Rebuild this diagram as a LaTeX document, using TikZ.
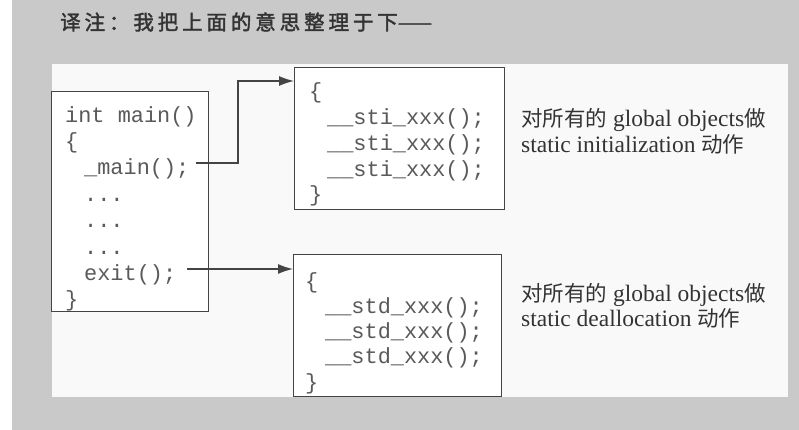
\documentclass[tikz,border=0pt]{standalone}
\usepackage{fontspec}
\setmainfont{Liberation Serif}
\setmonofont{Liberation Mono}
\newfontfamily\cjk{Noto Sans CJK SC}
\newfontfamily\cjktitle[FakeBold=2,LetterSpace=19]{Noto Sans CJK SC}
\newfontfamily\cjkbold[FakeBold=2]{Noto Sans CJK SC}
\usetikzlibrary{arrows.meta}
\definecolor{bggray}{HTML}{C9C9C9}
\definecolor{panel}{HTML}{F9F9F9}
\definecolor{linec}{HTML}{444444}
\definecolor{codec}{HTML}{5A5A5A}
\definecolor{labc}{HTML}{333333}
\tikzset{
  codebox/.style={draw=linec, line width=1.3pt, fill=white, inner sep=0, anchor=north west},
  code/.style={font=\ttfamily\fontsize{21.9}{26}\selectfont, text=codec, inner sep=0, anchor=base west},
  lab/.style={font=\fontsize{23.5}{26}\selectfont, text=labc, inner sep=0, anchor=base west},
  arr/.style={draw=linec, line width=1.3pt, -{Latex[length=15pt,width=10pt]}}
}
\newcommand\zh[1]{{\cjk\fontsize{21.5}{26}\selectfont #1}}
\begin{document}
\begin{tikzpicture}[x=1pt,y=-1pt]
\useasboundingbox (0,0) rectangle (799,430);
\fill[white] (0,0) rectangle (799,430);
\fill[bggray] (12,0) rectangle (799,430);
\fill[panel] (52,64) rectangle (788,397);
% title
\node[inner sep=0, anchor=west, text=labc, font=\fontsize{20.5}{24}\selectfont] (title) at (60,22) {{\cjktitle 译注：我把上面的意思整理于下}{\cjkbold ——}};
% boxes
\node[codebox, minimum width=157pt, minimum height=220pt] (mb) at (51,91) {};
\node[codebox, minimum width=210pt, minimum height=142pt] (tb) at (294,67) {};
\node[codebox, minimum width=208pt, minimum height=142pt] (bb) at (293,254) {};
% main box code
\node[code] (m1) at (65,123) {int main()};
\node[code] (m2) at (65,149) {\{};
\node[code] (m3) at (84,175) {\_main();};
\node[code] (m4) at (84,201) {...};
\node[code] (m5) at (84,227) {...};
\node[code] (m6) at (84,254) {...};
\node[code] (m7) at (84,280) {exit();};
\node[code] (m8) at (65,306) {\}};
% top box code
\node[code] (t1) at (309,99) {\{};
\node[code] (t2) at (327,125) {\_\_sti\_xxx();};
\node[code] (t3) at (327,151) {\_\_sti\_xxx();};
\node[code] (t4) at (327,177) {\_\_sti\_xxx();};
\node[code] (t5) at (309,202) {\}};
% bottom box code
\node[code] (b1) at (305,288) {\{};
\node[code] (b2) at (325,313) {\_\_std\_xxx();};
\node[code] (b3) at (325,338) {\_\_std\_xxx();};
\node[code] (b4) at (325,363) {\_\_std\_xxx();};
\node[code] (b5) at (305,389) {\}};
% labels
\node[lab] (l1) at (521,127) {\zh{对所有的} global objects\zh{做}};
\node[lab] (l2) at (521,153) {static initialization \zh{动作}};
\node[lab] (l3) at (521,301) {\zh{对所有的} global objects\zh{做}};
\node[lab] (l4) at (521,326) {static deallocation \zh{动作}};
% connectors
\coordinate (s1) at (196,163);
\coordinate (c1) at (238,81);
\coordinate (s2) at (187,269);
\draw[arr] (s1) -| (c1) -- (c1 -| tb.west);
\draw[arr] (s2) -- (s2 -| bb.west);
\end{tikzpicture}
\end{document}
